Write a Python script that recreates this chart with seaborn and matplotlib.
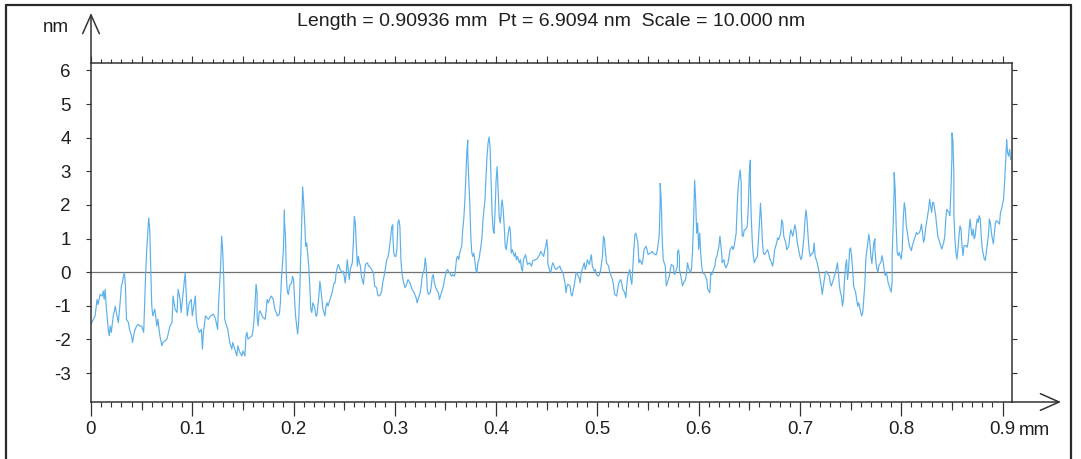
import matplotlib
matplotlib.use("Agg")
import matplotlib.pyplot as plt
from matplotlib.lines import Line2D
from matplotlib.ticker import MultipleLocator
import numpy as np
import pandas as pd
import seaborn as sns

# surface profile, in six stretches along the scan (mm / nm)
x_a = [0.000, 0.004, 0.006, 0.007, 0.009, 0.011, 0.012, 0.013, 0.014, 0.015,
       0.017, 0.018, 0.019, 0.020, 0.022, 0.024, 0.025, 0.027, 0.029, 0.030,
       0.031, 0.032, 0.033, 0.034, 0.035, 0.037, 0.038, 0.040, 0.041, 0.043,
       0.045, 0.047, 0.048, 0.050, 0.052, 0.053, 0.054, 0.055, 0.057, 0.058,
       0.059, 0.060, 0.061, 0.063, 0.065, 0.066, 0.068, 0.070, 0.071, 0.075,
       0.078, 0.080, 0.081, 0.083, 0.085, 0.086, 0.088, 0.089, 0.091, 0.093,
       0.094, 0.095, 0.097, 0.099, 0.100, 0.101, 0.103, 0.104, 0.105, 0.107,
       0.109, 0.110, 0.111, 0.113, 0.116, 0.118, 0.121, 0.123, 0.125, 0.126,
       0.128, 0.129, 0.130, 0.131, 0.132, 0.134, 0.135, 0.137, 0.139, 0.140,
       0.142, 0.144, 0.145, 0.147, 0.149, 0.150, 0.152]
y_a = [-1.55, -1.30, -0.81, -0.96, -0.66, -0.71, -0.56, -0.81, -0.51, -1.01,
       -1.70, -1.89, -1.60, -1.79, -1.30, -1.01, -1.20, -1.50, -0.81, -0.41,
       -0.32, -0.12, -0.02, -0.41, -1.40, -1.50, -1.70, -1.89, -2.09, -1.75,
       -1.60, -1.55, -1.60, -1.60, -1.79, -0.91, -0.02, 0.67, 1.61, 1.26,
       0.18, -1.01, -1.30, -1.10, -1.60, -1.40, -1.89, -2.19, -2.09, -1.99,
       -1.60, -1.50, -0.71, -1.10, -1.20, -0.51, -0.81, -1.20, -0.61, -0.02,
       -0.61, -1.30, -0.91, -0.81, -1.30, -1.10, -0.71, -1.40, -1.60, -1.79,
       -1.70, -2.29, -1.79, -1.30, -1.40, -1.30, -1.25, -1.40, -1.70, -0.91,
       0.18, 1.07, 0.67, -0.12, -1.40, -1.60, -1.70, -2.09, -2.29, -2.09,
       -2.29, -2.49, -2.19, -2.39, -2.49, -2.34, -2.49]

x_b = [0.153, 0.154, 0.155, 0.157, 0.159, 0.160, 0.161, 0.162, 0.163, 0.164,
       0.164, 0.165, 0.166, 0.167, 0.169, 0.170, 0.172, 0.173, 0.174, 0.175,
       0.177, 0.178, 0.180, 0.181, 0.182, 0.183, 0.184, 0.186, 0.187, 0.188,
       0.190, 0.191, 0.191, 0.192, 0.193, 0.194, 0.195, 0.196, 0.198, 0.199,
       0.200, 0.201, 0.202, 0.204, 0.205, 0.206, 0.207, 0.208, 0.209, 0.210,
       0.211, 0.212, 0.213, 0.215, 0.216, 0.217, 0.218, 0.219, 0.221, 0.222,
       0.223, 0.225, 0.226, 0.227, 0.228, 0.229, 0.231, 0.232, 0.233, 0.234,
       0.236, 0.237, 0.238, 0.240, 0.241, 0.242, 0.244, 0.245, 0.246, 0.248,
       0.249, 0.250, 0.251, 0.252, 0.253, 0.254, 0.255, 0.256, 0.258, 0.259,
       0.260, 0.261, 0.262, 0.263, 0.264, 0.265, 0.266, 0.267, 0.269, 0.270,
       0.271, 0.273, 0.274, 0.275, 0.277, 0.279, 0.280, 0.282, 0.283, 0.284,
       0.286, 0.287, 0.288, 0.290, 0.292, 0.293, 0.294, 0.296, 0.297, 0.298,
       0.298, 0.299, 0.300, 0.301, 0.302, 0.303, 0.304, 0.305]
y_b = [-1.89, -1.79, -1.99, -1.94, -1.89, -1.70, -1.40, -0.91, -0.36, -0.61,
       -1.30, -1.60, -1.20, -1.15, -1.30, -1.35, -1.40, -1.10, -0.81, -0.91,
       -0.76, -0.71, -0.81, -1.01, -1.15, -1.20, -1.30, -1.25, -0.91, -0.22,
       0.67, 1.85, 1.56, 1.07, -0.22, -0.61, -0.66, -0.41, -0.32, -0.12,
       -0.22, -0.81, -1.30, -1.84, -1.50, -0.71, 0.37, 1.56, 2.54, 2.05,
       1.46, 0.77, 0.87, 0.18, -0.41, -1.10, -1.20, -0.91, -1.06, -1.30,
       -1.30, -0.71, -0.27, -0.51, -0.81, -1.10, -1.30, -1.01, -0.91, -1.01,
       -0.81, -0.71, -0.61, -0.32, -0.32, -0.02, 0.23, 0.18, 0.08, -0.02,
       0.03, -0.12, -0.32, -0.02, 0.37, 0.08, -0.22, 0.08, 0.28, 0.87,
       1.66, 1.46, 0.77, 0.18, 0.47, 0.28, 0.18, -0.12, -0.36, -0.02,
       0.23, 0.28, 0.18, 0.18, 0.08, -0.02, -0.41, -0.46, -0.66, -0.71,
       -0.66, -0.56, -0.32, -0.02, 0.37, 0.42, 0.57, 1.07, 1.36, 1.41,
       1.07, 0.57, 0.47, 0.47, 0.67, 1.46, 1.56, 1.36]

x_c = [0.306, 0.307, 0.308, 0.310, 0.311, 0.313, 0.315, 0.316, 0.317, 0.319,
       0.321, 0.322, 0.323, 0.325, 0.326, 0.327, 0.329, 0.330, 0.331, 0.332,
       0.333, 0.335, 0.336, 0.337, 0.338, 0.339, 0.341, 0.342, 0.343, 0.344,
       0.346, 0.348, 0.349, 0.351, 0.352, 0.354, 0.356, 0.357, 0.359, 0.360,
       0.361, 0.362, 0.363, 0.364, 0.366, 0.367, 0.368, 0.369, 0.370, 0.371,
       0.372, 0.372, 0.373, 0.374, 0.375, 0.376, 0.377, 0.378, 0.379, 0.380,
       0.381, 0.382, 0.383, 0.385, 0.386, 0.387, 0.389, 0.390, 0.391, 0.392,
       0.393, 0.394, 0.395, 0.396, 0.397, 0.398, 0.399, 0.400, 0.401, 0.402,
       0.403, 0.404, 0.405, 0.405, 0.406, 0.407, 0.408, 0.409, 0.410, 0.412,
       0.413, 0.414, 0.415, 0.416, 0.418, 0.419, 0.420, 0.421, 0.423, 0.424,
       0.425, 0.426, 0.427, 0.429, 0.430, 0.431, 0.433, 0.435, 0.436, 0.438,
       0.439, 0.441, 0.443, 0.444, 0.445, 0.447, 0.448, 0.449, 0.450, 0.451,
       0.451, 0.453, 0.454, 0.455, 0.456, 0.458]
y_c = [0.37, -0.02, -0.22, -0.46, -0.41, -0.22, -0.32, -0.41, -0.51, -0.61,
       -0.76, -0.91, -0.81, -0.61, -0.41, -0.12, 0.08, 0.42, 0.18, -0.51,
       -0.66, -0.61, -0.41, -0.12, -0.07, -0.32, -0.51, -0.56, -0.61, -0.81,
       -0.61, -0.41, -0.22, 0.03, 0.08, -0.02, -0.12, -0.07, -0.12, 0.13,
       0.42, 0.47, 0.37, 0.57, 0.77, 1.26, 1.56, 2.05, 2.74, 3.53,
       3.93, 3.53, 2.74, 2.05, 1.07, 0.57, 0.47, 0.57, 0.33, 0.08,
       -0.02, 0.28, 0.37, 0.77, 1.02, 1.56, 2.15, 2.84, 3.43, 3.83,
       4.02, 3.73, 2.74, 1.76, 1.26, 1.16, 1.85, 2.74, 3.14, 2.45,
       1.66, 1.46, 1.76, 1.95, 2.15, 1.85, 1.36, 0.77, 0.67, 1.16,
       1.36, 1.26, 0.57, 0.67, 0.47, 0.57, 0.37, 0.47, 0.28, 0.37,
       0.13, 0.03, 0.37, 0.52, 0.37, 0.23, 0.28, 0.18, 0.33, 0.37,
       0.37, 0.42, 0.52, 0.62, 0.57, 0.47, 0.67, 0.77, 0.97, 0.67,
       0.28, 0.03, -0.02, 0.18, 0.28, 0.13]

x_d = [0.459, 0.461, 0.463, 0.464, 0.466, 0.468, 0.469, 0.470, 0.471, 0.473,
       0.474, 0.475, 0.477, 0.478, 0.479, 0.480, 0.481, 0.482, 0.483, 0.484,
       0.486, 0.487, 0.488, 0.489, 0.490, 0.492, 0.493, 0.494, 0.495, 0.497,
       0.498, 0.499, 0.501, 0.502, 0.503, 0.505, 0.506, 0.507, 0.508, 0.509,
       0.511, 0.512, 0.513, 0.515, 0.516, 0.517, 0.519, 0.520, 0.521, 0.523,
       0.524, 0.525, 0.527, 0.528, 0.529, 0.530, 0.532, 0.533, 0.534, 0.536,
       0.537, 0.538, 0.540, 0.541, 0.542, 0.544, 0.545, 0.546, 0.548, 0.549,
       0.550, 0.552, 0.553, 0.554, 0.555, 0.557, 0.558, 0.559, 0.561, 0.562,
       0.562, 0.563, 0.564, 0.565, 0.567, 0.568, 0.569, 0.571, 0.572, 0.573,
       0.575, 0.576, 0.577, 0.579, 0.579, 0.580, 0.581, 0.581, 0.583, 0.584,
       0.585, 0.587, 0.588, 0.589, 0.590, 0.592, 0.593, 0.594, 0.595, 0.596,
       0.597, 0.598, 0.599, 0.600, 0.601, 0.602, 0.603, 0.604, 0.606, 0.608,
       0.609, 0.611]
y_d = [0.08, 0.13, 0.18, 0.08, -0.02, -0.32, -0.61, -0.41, -0.36, -0.41,
       -0.66, -0.71, -0.41, -0.22, -0.02, -0.02, -0.12, -0.17, -0.32, -0.02,
       0.18, 0.28, 0.08, 0.18, 0.37, 0.23, 0.37, 0.52, 0.18, 0.03,
       0.08, -0.07, -0.12, -0.07, 0.03, 0.47, 1.07, 0.97, 0.57, 0.28,
       0.18, 0.03, -0.07, -0.22, -0.41, -0.66, -0.71, -0.51, -0.32, -0.22,
       -0.32, -0.51, -0.61, -0.76, -0.41, -0.12, 0.08, -0.22, -0.36, 0.67,
       1.11, 1.16, 0.87, 0.28, 0.37, 0.23, 0.37, 0.67, 0.77, 0.67,
       0.52, 0.57, 0.57, 0.62, 0.57, 0.52, 0.52, 0.62, 1.07, 2.15,
       2.64, 2.15, 0.97, 0.37, 0.18, -0.41, -0.32, -0.12, 0.08, 0.23,
       0.18, -0.07, -0.02, 0.18, 0.57, 0.67, 0.47, 0.08, -0.22, -0.41,
       -0.32, -0.22, -0.02, 0.28, 0.13, -0.02, 0.13, 0.67, 1.56, 2.74,
       2.15, 1.16, 1.46, 0.67, 1.16, 0.57, 0.18, -0.02, -0.07, -0.22,
       -0.51, -0.61]

x_e = [0.612, 0.613, 0.614, 0.616, 0.617, 0.618, 0.620, 0.621, 0.622, 0.623,
       0.623, 0.625, 0.626, 0.627, 0.629, 0.630, 0.631, 0.633, 0.634, 0.635,
       0.637, 0.638, 0.639, 0.640, 0.641, 0.642, 0.642, 0.643, 0.644, 0.645,
       0.646, 0.648, 0.649, 0.650, 0.651, 0.651, 0.652, 0.653, 0.654, 0.655,
       0.656, 0.658, 0.659, 0.660, 0.661, 0.662, 0.663, 0.664, 0.665, 0.666,
       0.668, 0.669, 0.670, 0.672, 0.673, 0.674, 0.675, 0.677, 0.678, 0.679,
       0.681, 0.682, 0.683, 0.684, 0.685, 0.686, 0.687, 0.689, 0.690, 0.691,
       0.693, 0.694, 0.695, 0.696, 0.697, 0.698, 0.700, 0.701, 0.702, 0.704,
       0.705, 0.706, 0.707, 0.708, 0.709, 0.710, 0.712, 0.713, 0.714, 0.715,
       0.717, 0.718, 0.719, 0.720, 0.721, 0.722, 0.724, 0.725, 0.726, 0.727,
       0.729, 0.730, 0.731, 0.733, 0.734, 0.735, 0.737, 0.738, 0.739, 0.740,
       0.741, 0.742, 0.743, 0.744, 0.745, 0.746, 0.747, 0.748, 0.749, 0.750,
       0.751, 0.752, 0.753, 0.755, 0.756, 0.757, 0.758, 0.760, 0.761, 0.762]
y_e = [-0.02, -0.07, 0.03, 0.18, 0.42, 0.47, 0.77, 1.07, 0.77, 0.47,
       0.28, 0.37, 0.18, 0.13, 0.28, 0.47, 0.67, 0.77, 0.67, 0.77,
       1.16, 1.95, 2.54, 2.84, 3.04, 2.64, 1.95, 1.07, 1.07, 1.26,
       1.26, 1.36, 1.95, 2.94, 3.33, 2.64, 1.56, 0.87, 0.47, 0.28,
       0.37, 0.47, 0.97, 1.46, 2.05, 1.56, 0.87, 0.57, 0.52, 0.57,
       0.67, 0.57, 0.42, 0.28, 0.18, 0.37, 0.67, 0.87, 1.02, 0.97,
       1.16, 1.56, 1.46, 1.07, 0.97, 0.87, 0.67, 0.77, 1.07, 1.26,
       1.07, 1.26, 1.41, 1.26, 0.97, 0.77, 0.47, 0.37, 0.47, 1.07,
       1.56, 1.85, 1.56, 1.07, 0.67, 0.47, 0.57, 0.57, 0.87, 0.47,
       0.28, 0.13, -0.02, -0.22, -0.41, -0.66, -0.22, -0.02, 0.03, -0.02,
       -0.12, -0.32, -0.41, -0.22, -0.12, -0.02, 0.28, -0.02, -0.41, -0.61,
       -0.71, -1.01, -0.81, -0.22, 0.18, 0.37, -0.22, 0.08, 0.67, 0.72,
       0.47, 0.08, -0.41, -0.61, -0.81, -1.01, -0.91, -1.20, -1.30, -1.20]

x_f = [0.764, 0.765, 0.767, 0.768, 0.769, 0.770, 0.771, 0.772, 0.773, 0.774,
       0.774, 0.775, 0.776, 0.777, 0.778, 0.780, 0.781, 0.782, 0.783, 0.784,
       0.785, 0.786, 0.787, 0.789, 0.790, 0.791, 0.791, 0.792, 0.793, 0.793,
       0.794, 0.795, 0.796, 0.797, 0.798, 0.799, 0.800, 0.801, 0.802, 0.803,
       0.804, 0.805, 0.807, 0.808, 0.810, 0.811, 0.813, 0.815, 0.816, 0.818,
       0.819, 0.820, 0.821, 0.822, 0.823, 0.824, 0.826, 0.827, 0.828, 0.829,
       0.830, 0.831, 0.832, 0.833, 0.834, 0.835, 0.836, 0.838, 0.839, 0.840,
       0.842, 0.843, 0.844, 0.845, 0.847, 0.848, 0.849, 0.850, 0.850, 0.851,
       0.852, 0.852, 0.853, 0.854, 0.855, 0.856, 0.857, 0.858, 0.859, 0.860,
       0.861, 0.862, 0.864, 0.865, 0.866, 0.867, 0.868, 0.869, 0.870, 0.871,
       0.872, 0.873, 0.874, 0.875, 0.876, 0.877, 0.878, 0.879, 0.880, 0.882,
       0.883, 0.884, 0.886, 0.887, 0.888, 0.889, 0.890, 0.891, 0.892, 0.893,
       0.894, 0.896, 0.897, 0.898, 0.899, 0.901, 0.902, 0.903, 0.904, 0.904,
       0.905, 0.906, 0.907, 0.908]
y_f = [-0.39, 0.39, 0.89, 1.13, 0.89, 0.49, 0.25, 0.59, 0.89, 0.99,
       0.69, 0.30, 0.10, 0.00, 0.20, 0.30, 0.49, 0.35, 0.10, -0.10,
       0.00, -0.10, -0.30, -0.49, -0.59, -0.30, 0.49, 1.38, 2.47, 2.96,
       2.47, 1.38, 0.59, 0.49, 0.59, 0.49, 0.39, 0.69, 1.58, 2.07,
       1.87, 1.38, 0.99, 0.79, 0.64, 0.79, 0.99, 1.18, 1.13, 1.18,
       1.28, 1.43, 1.18, 0.89, 0.99, 1.28, 1.68, 1.87, 2.17, 1.97,
       1.78, 2.07, 2.07, 1.87, 1.68, 1.38, 1.08, 0.89, 0.79, 0.69,
       0.89, 1.08, 1.58, 1.87, 1.78, 1.68, 2.37, 3.35, 4.14, 3.94,
       2.86, 1.68, 0.99, 0.59, 0.39, 0.69, 1.08, 1.38, 1.28, 0.79,
       0.49, 0.79, 0.79, 0.74, 0.89, 1.28, 1.58, 1.28, 1.08, 1.28,
       0.99, 1.08, 1.38, 1.58, 1.48, 1.68, 1.58, 1.08, 0.69, 0.39,
       0.35, 0.59, 1.08, 1.58, 1.48, 1.18, 0.99, 0.84, 1.18, 1.48,
       1.53, 1.48, 1.43, 1.78, 1.87, 2.17, 2.66, 3.25, 3.85, 3.94,
       3.55, 3.45, 3.65, 3.35]

x_tick_values = [0, 0.1, 0.2, 0.3, 0.4, 0.5, 0.6, 0.7, 0.8, 0.9]
x_tick_labels = ["0", "0.1", "0.2", "0.3", "0.4", "0.5", "0.6", "0.7", "0.8", "0.9"]
half_steps = [0.05, 0.15, 0.25, 0.35, 0.45, 0.55, 0.65, 0.75, 0.85]
y_tick_values = [-3, -2, -1, 0, 1, 2, 3, 4, 5, 6]
header = "Length = 0.90936 mm  Pt = 6.9094 nm  Scale = 10.000 nm"
scan_length = 0.90936
y_range = (-3.86, 6.22)

profile = pd.DataFrame({
    "mm": np.concatenate([x_a, x_b, x_c, x_d, x_e, x_f]),
    "nm": np.concatenate([y_a, y_b, y_c, y_d, y_e, y_f]),
})

sns.set_style("white")
plt.rcParams["font.family"] = ["Liberation Sans", "DejaVu Sans"]
plt.rcParams["axes.unicode_minus"] = False

INK = "#333333"
TXT = "#1f1f1f"
FS = 13.5
W, H = 1081, 459

fig = plt.figure(figsize=(W / 100, H / 100), dpi=100)
ax = fig.add_axes([91 / W, 57 / H, 921 / W, 339 / H])

ax.axhline(0, color="#707070", lw=0.9, zorder=1)
sns.lineplot(data=profile, x="mm", y="nm", ax=ax, color="#5cb0ea", lw=0.85,
             estimator=None, sort=False, zorder=2)

ax.set_xlim(0, scan_length)
ax.set_ylim(*y_range)
ax.set_xlabel("")
ax.set_ylabel("")
for s in ax.spines.values():
    s.set_color(INK)
    s.set_linewidth(1.1)

# bottom: labelled ticks every 0.1, small ones every 0.01
ax.set_xticks(x_tick_values)
ax.set_xticklabels(x_tick_labels)
ax.xaxis.set_minor_locator(MultipleLocator(0.01))
ax.tick_params(axis="x", which="major", direction="out", length=10, width=0.9,
               color=INK, labelcolor=TXT, labelsize=FS, pad=3.6, bottom=True, top=False)
ax.tick_params(axis="x", which="minor", direction="out", length=3.6, width=0.8,
               color=INK, bottom=True, top=False)

# medium ticks at the half steps
mid = ax.secondary_xaxis("bottom")
mid.set_xticks(half_steps)
mid.tick_params(direction="out", length=5.8, width=0.8, color=INK,
                bottom=True, labelbottom=False)
mid.spines["bottom"].set_visible(False)

# ruler along the top edge
top = ax.secondary_xaxis("top")
top.xaxis.set_major_locator(MultipleLocator(0.05))
top.xaxis.set_minor_locator(MultipleLocator(0.01))
top.tick_params(which="major", direction="out", length=5, width=0.8, color=INK,
                top=True, labeltop=False)
top.tick_params(which="minor", direction="out", length=3, width=0.8, color=INK, top=True)
top.spines["top"].set_visible(False)

ax.set_yticks(y_tick_values)
ax.tick_params(axis="y", which="major", direction="out", length=3.6, width=0.8,
               color=INK, labelcolor=TXT, labelsize=FS, pad=11,
               left=True, right=True)

arrow = dict(arrowstyle="->,head_length=1.35,head_width=0.6", color=INK,
             lw=1.1, shrinkA=0, shrinkB=0)
ax.annotate("", xy=(0, (402 - 13) / 339), xytext=(0, 1), xycoords="axes fraction",
            arrowprops=arrow, annotation_clip=False)
ax.annotate("", xy=((1061 - 91) / 921, 0), xytext=(1, 0), xycoords="axes fraction",
            arrowprops=arrow, annotation_clip=False)

fig.text(69 / W, 1 - 27 / H, "nm", ha="right", va="center", fontsize=FS, color=TXT)
fig.text(1019 / W, 1 - 435 / H, "mm", ha="left", va="baseline", fontsize=FS, color=TXT)
fig.text(551 / W, 1 - 26 / H, header, ha="center", va="baseline", fontsize=14, color=TXT)

# page frame around the printout
frame = dict(transform=fig.transFigure, color="#2a2a2a", lw=1.6)
fig.add_artist(Line2D([6 / W, 6 / W], [0, 1 - 5 / H], **frame))
fig.add_artist(Line2D([6 / W, 1071 / W], [1 - 5 / H, 1 - 5 / H], **frame))
fig.add_artist(Line2D([1071 / W, 1071 / W], [1 - 5 / H, 0], **frame))

fig.savefig("out.png", dpi=100)
